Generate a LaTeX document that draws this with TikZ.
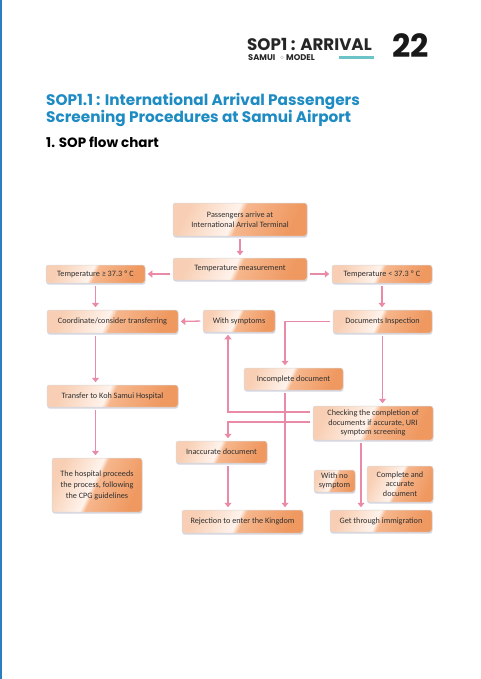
\documentclass[tikz,border=0pt]{standalone}
\usepackage{fontspec}
\setmainfont{Carlito}
\newfontfamily\pop{Poppins}
\usetikzlibrary{arrows.meta,shadows,calc}
\definecolor{pinkc}{HTML}{E98AA6}
\definecolor{bxA}{HTML}{F8CFB4}
\definecolor{bxB}{HTML}{FFF3EC}
\definecolor{bxC}{HTML}{F6B68C}
\definecolor{bxD}{HTML}{EF9860}
\definecolor{titleblue}{HTML}{1E8BC3}
\definecolor{teal}{HTML}{6CC3C8}
\definecolor{edgeblue}{HTML}{2A7FC0}
\definecolor{txt}{HTML}{303030}
\pgfdeclarehorizontalshading{boxsh}{100bp}{color(0bp)=(bxA); color(25bp)=(bxA); color(47bp)=(bxB); color(50bp)=(bxC); color(75bp)=(bxD); color(100bp)=(bxD)}
\tikzset{
  box/.style={rounded corners=2.5pt, draw=gray!30, line width=0.5pt,
    shading=boxsh, shading angle=-25,
    drop shadow={shadow xshift=0.3pt, shadow yshift=-1.6pt, fill=blue!20!gray!45, opacity=0.6},
    font=\fontsize{8.2}{9.6}\selectfont, text=txt, align=center, inner sep=0pt},
  arr/.style={draw=pinkc, line width=1.3pt, shorten <=2.5pt, shorten >=2.5pt,
    -{Triangle[width=7pt,length=4.5pt]}},
}
\begin{document}
\begin{tikzpicture}[x=1pt,y=-1pt]
\useasboundingbox (0,0) rectangle (480,679);
\fill[white] (0,0) rectangle (480,679);
\fill[edgeblue] (0,0) rectangle (2,679);
% header
\node[anchor=west, inner sep=0pt, font=\pop\bfseries\fontsize{16.7}{17}\selectfont, text=black!85] (hd) at (247,44) {SOP1 : ARRIVAL};
\node[anchor=west, inner sep=0pt, font=\pop\bfseries\fontsize{8.3}{8.3}\selectfont, text=black!85] (samui) at (248,57.5) {SAMUI};
\node[circle, draw=gray!40, line width=0.5pt, inner sep=0pt, minimum size=3pt] (dot) at (282,57.5) {};
\node[anchor=west, inner sep=0pt, font=\pop\bfseries\fontsize{8.3}{8.3}\selectfont, text=black!85] (model) at (286,57.5) {MODEL};
\fill[teal] (339,56.5) rectangle (374,59.5);
\node[anchor=west, inner sep=0pt, font=\pop\bfseries\fontsize{32}{32}\selectfont, text=black!90] (pg) at (392,46) {22};
% title
\node[anchor=west, inner sep=0pt, font=\pop\bfseries\fontsize{15.3}{15.3}\selectfont, text=titleblue] (t1) at (46,101) {SOP1.1 : International Arrival Passengers};
\node[anchor=west, inner sep=0pt, font=\pop\bfseries\fontsize{15.3}{15.3}\selectfont, text=titleblue] (t2) at (46,118) {Screening Procedures at Samui Airport};
\node[anchor=west, inner sep=0pt, font=\pop\bfseries\fontsize{13.5}{13.5}\selectfont, text=black] (t3) at (46,142) {1. SOP flow chart};
% boxes
\node[box, minimum width=134pt, minimum height=33pt] (p) at (240,219.5) {Passengers arrive at\\International Arrival Terminal};
\node[box, minimum width=134pt, minimum height=22pt] (tm) at (240,269) {Temperature measurement};
\node[box, minimum width=99pt, minimum height=18pt] (tge) at (95.5,274) {Temperature ≥ 37.3 º C};
\node[box, minimum width=100pt, minimum height=18pt] (tlt) at (382,274) {Temperature < 37.3 º C};
\node[box, minimum width=131pt, minimum height=23pt] (cc) at (112.5,321.5) {Coordinate/consider transferring};
\node[box, minimum width=72pt, minimum height=22pt] (ws) at (239,321) {With symptoms};
\node[box, minimum width=99pt, minimum height=23pt] (di) at (382.5,321.5) {Documents Inspection};
\node[box, minimum width=99pt, minimum height=22pt] (inc) at (293.5,379) {Incomplete document};
\node[box, minimum width=120pt, minimum height=34pt] (chk) at (373,423) {Checking the completion of\\documents if accurate, URI\\symptom screening};
\node[box, minimum width=131pt, minimum height=22pt] (tr) at (112.5,396) {Transfer to Koh Samui Hospital};
\node[box, minimum width=91pt, minimum height=22pt] (inac) at (221.5,452) {Inaccurate document};
\node[box, minimum width=90pt, minimum height=54pt, font=\fontsize{8.2}{11}\selectfont] (hosp) at (97,485) {The hospital proceeds\\the process, following\\the CPG guidelines};
\node[box, minimum width=41pt, minimum height=22pt] (wns) at (334.5,481) {With no\\symptom};
\node[box, minimum width=66pt, minimum height=36pt] (cad) at (400,484) {Complete and\\accurate\\document};
\node[box, minimum width=121pt, minimum height=23pt] (rej) at (242.5,521.5) {Rejection to enter the Kingdom};
\node[box, minimum width=102pt, minimum height=22pt] (gt) at (381,521) {Get through immigration};
% helper coordinates
\coordinate (xv) at (285,0);
\coordinate (xl) at (228,0);
\coordinate (xr) at (361,0);
\coordinate (y1) at (0,412);
\coordinate (y2) at (0,422);
% connectors
\draw[arr] (p) -- (tm);
\draw[arr] (tm.west |- tge) -- (tge.east);
\draw[arr] (tm.east |- tlt) -- (tlt.west);
\draw[arr] (tge.south) -- (tge.south |- cc.north);
\draw[arr] (tlt.south) -- (tlt.south |- di.north);
\draw[arr] (ws.west) -- (cc.east);
\draw[arr] (di.west) -| (xv |- inc.north);
\draw[arr] (di.south) -- (di.south |- chk.north);
\draw[arr] (chk.west |- y1) -| (xl |- ws.south);
\draw[arr] (chk.west |- y2) -| (xl |- inac.north);
\draw[arr] (xl |- inac.south) -- (xl |- rej.north);
\draw[arr] (xv |- inc.south) -- (xv |- rej.north);
\draw[arr] (tge |- cc.south) -- (tge |- tr.north);
\draw[arr] (tge |- tr.south) -- (tge |- hosp.north);
\draw[arr] (xr |- chk.south) -- (xr |- gt.north);
\end{tikzpicture}
\end{document}
